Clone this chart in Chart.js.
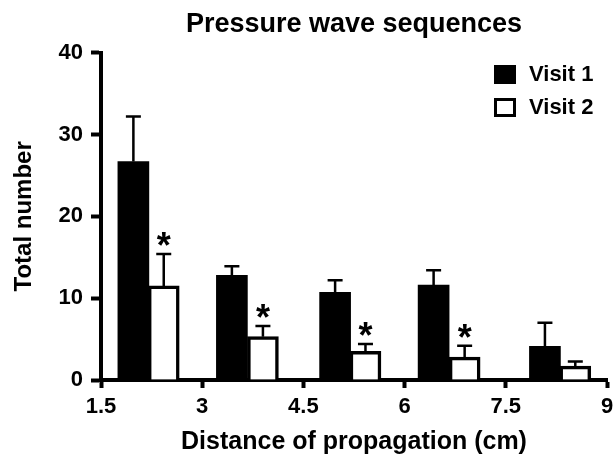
<!DOCTYPE html>
<html>
<head>
<meta charset="utf-8">
<script src="https://cdn.jsdelivr.net/npm/chart.js@4.4.0/dist/chart.umd.min.js"></script>
<style>
	html, body { margin: 0; padding: 0; background: #fff; }
	#wrap { width: 613px; height: 470px; }
</style>
</head>
<body>
<div id="wrap"><canvas id="chart" width="613" height="470"></canvas></div>
<script>
var seriesNames = ["Visit 1", "Visit 2"];
var visit1Pos = [1.98, 3.44, 4.97, 6.43, 8.08];
var visit2Pos = [2.43, 3.9, 5.42, 6.89, 8.53];
var visit1 = [26.7, 12.8, 10.7, 11.6, 4.1];
var visit2 = [11.5, 5.3, 3.5, 2.8, 1.7];
var visit1Sem = [5.5, 1.1, 1.5, 1.8, 2.9];
var visit2Sem = [3.9, 1.3, 0.9, 1.4, 0.55];
var significant = [true, true, true, true, false];
var xTicks = [1.5, 3, 4.5, 6, 7.5, 9];
var yTicks = [0, 10, 20, 30, 40];

var FONT = "'Liberation Sans', Arial, Helvetica, sans-serif";

function points(xs, ys){
	return xs.map(function(x, i){ return {x: x, y: ys[i]}; });
}

var errorBars = {
	id: "errorBars",
	afterDatasetsDraw: function(chart){
		var ctx = chart.ctx;
		var yScale = chart.scales.y;
		var sems = [visit1Sem, visit2Sem];
		ctx.save();
		ctx.strokeStyle = "#000";
		ctx.fillStyle = "#000";
		ctx.lineWidth = 2.5;
		chart.data.datasets.forEach(function(ds, di){
			var meta = chart.getDatasetMeta(di);
			meta.data.forEach(function(bar, i){
				var top = yScale.getPixelForValue(ds.data[i].y + sems[di][i]);
				ctx.beginPath();
				ctx.moveTo(bar.x, bar.y);
				ctx.lineTo(bar.x, top);
				ctx.moveTo(bar.x - 7.5, top);
				ctx.lineTo(bar.x + 7.5, top);
				ctx.stroke();
				if (di === 1 && significant[i]) {
					ctx.font = "bold 36px " + FONT;
					ctx.textAlign = "center";
					ctx.textBaseline = "alphabetic";
					ctx.fillText("*", bar.x, top + 4);
				}
			});
		});
		ctx.restore();
	}
};

var cornerLegend = {
	id: "cornerLegend",
	afterDraw: function(chart){
		var ctx = chart.ctx;
		ctx.save();
		ctx.font = "bold 22px " + FONT;
		ctx.textBaseline = "middle";
		ctx.textAlign = "left";
		chart.data.datasets.forEach(function(ds, i){
			var y = 65 + i * 33;
			ctx.fillStyle = ds.backgroundColor;
			ctx.fillRect(494, y, 22, 19);
			if (ds.borderWidth) {
				ctx.strokeStyle = "#000";
				ctx.lineWidth = 3;
				ctx.strokeRect(495.5, y + 1.5, 19, 16);
			}
			ctx.fillStyle = "#000";
			ctx.fillText(ds.label, 529, y + 10);
		});
		ctx.restore();
	}
};

new Chart(document.getElementById("chart"), {
	type: "bar",
	data: {
		datasets: [{
			label: seriesNames[0],
			data: points(visit1Pos, visit1),
			backgroundColor: "#000",
			borderWidth: 0
		}, {
			label: seriesNames[1],
			data: points(visit2Pos, visit2),
			backgroundColor: "#fff",
			borderColor: "#000",
			borderWidth: 3.5
		}]
	},
	options: {
		responsive: false,
		animation: false,
		grouped: false,
		barThickness: 31,
		layout: { padding: { left: 0, right: 0, top: 0, bottom: 0 } },
		plugins: {
			legend: { display: false },
			tooltip: { enabled: false },
			title: {
				display: true,
				fullSize: false,
				text: "Pressure wave sequences",
				color: "#000",
				font: { family: FONT, size: 27, weight: "bold" },
				padding: { top: 8, bottom: 12.3 }
			}
		},
		scales: {
			x: {
				type: "linear",
				min: 1.5,
				max: 9,
				offset: false,
				afterBuildTicks: function(scale){
					scale.ticks = xTicks.map(function(v){ return {value: v}; });
				},
				afterFit: function(scale){
					scale.height = 90;
					scale.paddingLeft = 0;
					scale.paddingRight = 6;
				},
				grid: { offset: false, drawOnChartArea: false, drawTicks: true, tickLength: 8, tickWidth: 4, tickColor: "#000" },
				border: { display: true, width: 4, color: "#000" },
				ticks: { color: "#000", padding: 6, font: { family: FONT, size: 22, weight: "bold" } },
				title: {
					display: true,
					text: "Distance of propagation (cm)",
					color: "#000",
					font: { family: FONT, size: 25, weight: "bold" },
					padding: { top: 0, bottom: 13 }
				}
			},
			y: {
				min: 0,
				max: 40,
				afterBuildTicks: function(scale){
					scale.ticks = yTicks.map(function(v){ return {value: v}; });
				},
				afterFit: function(scale){ scale.width = 101; },
				grid: { drawOnChartArea: false, drawTicks: true, tickLength: 10, tickWidth: 4, tickColor: "#000" },
				border: { display: true, width: 4, color: "#000" },
				ticks: { color: "#000", padding: 8, font: { family: FONT, size: 22, weight: "bold" } },
				title: {
					display: true,
					text: "Total number",
					color: "#000",
					font: { family: FONT, size: 24, weight: "bold" },
					padding: { top: 10, bottom: 0 }
				}
			}
		}
	},
	plugins: [errorBars, cornerLegend]
});
</script>
</body>
</html>
